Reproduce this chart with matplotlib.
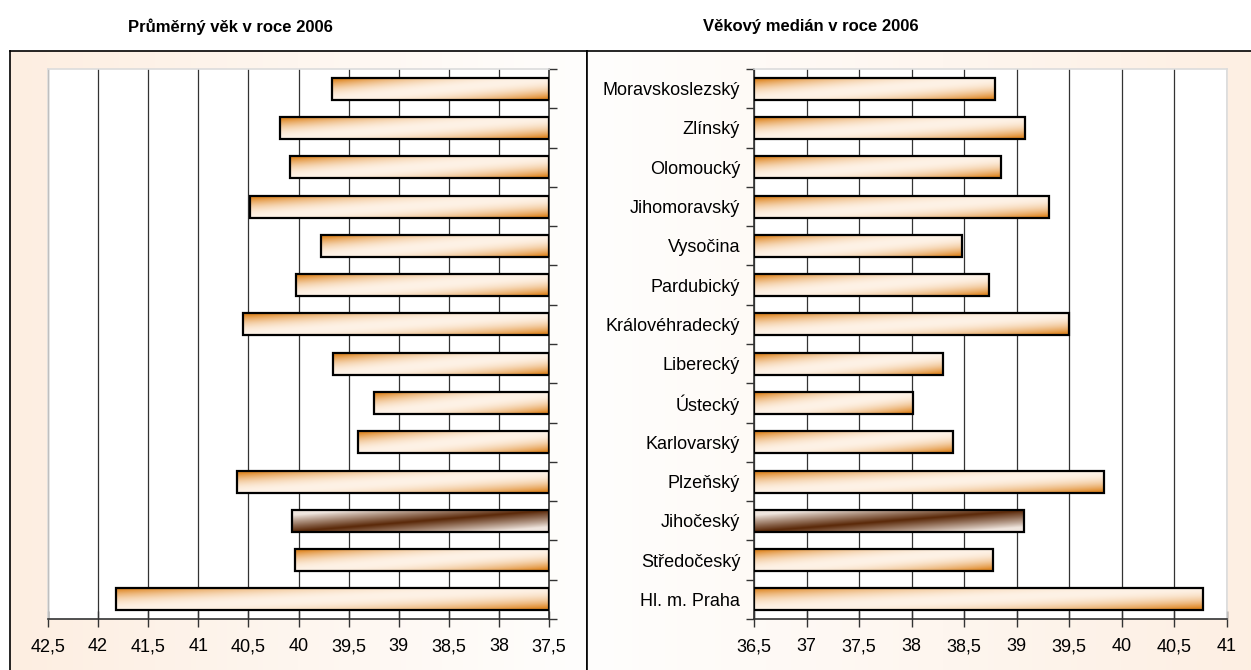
import numpy as np
import matplotlib
matplotlib.use('Agg')
import matplotlib.pyplot as plt
from matplotlib.colors import to_rgb

plt.rcParams['font.family'] = ['Liberation Sans', 'DejaVu Sans']

# data
regions = ['Moravskoslezský', 'Zlínský', 'Olomoucký', 'Jihomoravský', 'Vysočina',
           'Pardubický', 'Královéhradecký', 'Liberecký', 'Ústecký', 'Karlovarský',
           'Plzeňský', 'Jihočeský', 'Středočeský', 'Hl. m. Praha']
avg_age = [39.67, 40.18, 40.08, 40.48, 39.78, 40.02, 40.55, 39.66, 39.25, 39.41,
           40.61, 40.06, 40.03, 41.82]
median_age = [38.79, 39.08, 38.85, 39.31, 38.48, 38.74, 39.50, 38.30, 38.01, 38.39,
              39.83, 39.07, 38.77, 40.77]
highlight = 'Jihočeský'

avg_ticks = [42.5, 42, 41.5, 41, 40.5, 40, 39.5, 39, 38.5, 38, 37.5]
median_ticks = [36.5, 37, 37.5, 38, 38.5, 39, 39.5, 40, 40.5, 41]

title_avg = 'Průměrný věk v roce 2006'
title_median = 'Věkový medián v roce 2006'

W, H = 1251, 670
fig = plt.figure(figsize=(W / 100, H / 100), dpi=100)


def px_axes(x0, y0, x1, y1):
    # pixel box (top-left origin) -> figure axes
    return fig.add_axes([x0 / W, 1 - y1 / H, (x1 - x0) / W, (y1 - y0) / H])


def background(ax, left_peach=True):
    peach = np.array(to_rgb('#FDEEE1'))
    white = np.array(to_rgb('#FFFEFD'))
    t = np.linspace(0, 1, 256)
    if left_peach:
        t = 1 - t
    row = white + (peach - white) * t[:, None]
    ax.imshow(row[None, :, :], aspect='auto', extent=[0, 1, 0, 1])
    ax.set_xlim(0, 1)
    ax.set_ylim(0, 1)
    ax.set_xticks([])
    ax.set_yticks([])
    for s in ax.spines.values():
        s.set_color('black')
        s.set_linewidth(1.2)


bg_left = px_axes(10, 51, 587, 720)
background(bg_left, left_peach=True)
bg_right = px_axes(587, 51, 1300, 720)
background(bg_right, left_peach=False)


def gradient_fill(ax, bar, dark=False):
    x0, y0 = bar.get_x(), bar.get_y()
    w, h = bar.get_width(), bar.get_height()
    xl, xr = x0, x0 + w
    if ax.xaxis_inverted():
        xl, xr = xr, xl
    yt, yb = y0, y0 + h
    u = np.linspace(0, 1, 300)
    v = np.linspace(0, 1, 40)
    U, V = np.meshgrid(u, v)
    d = np.abs(V - (1 - U))
    if dark:
        c_out = np.array(to_rgb('#F0E6DF'))
        c_in = np.array(to_rgb('#5A2808'))
        f = np.clip(1 - d * 1.3, 0, 1) ** 0.9
        img = c_out + (c_in - c_out) * f[..., None]
    else:
        c_mid = np.array(to_rgb('#FEF2E6'))
        c_edge = np.array(to_rgb('#DF8826'))
        f = np.clip(d * 1.1, 0, 1) ** 2.0
        img = c_mid + (c_edge - c_mid) * f[..., None]
    im = ax.imshow(img, aspect='auto', extent=[xl, xr, yb, yt],
                   interpolation='bilinear', zorder=2.5)
    im.set_clip_path(bar)


def bar_panel(ax, values, base, ticks, xlim, ylabels_side):
    y = np.arange(len(regions))
    ax.set_facecolor('white')
    ax.set_xlim(*xlim)
    ax.set_ylim(len(regions) - 0.5, -0.5)
    bars = ax.barh(y, [v - base for v in values], left=base, height=0.56,
                   facecolor='none', edgecolor='black', linewidth=1.6, zorder=3)
    for name, b in zip(regions, bars):
        gradient_fill(ax, b, dark=(name == highlight))
    ax.set_xlim(*xlim)
    ax.set_ylim(len(regions) - 0.5, -0.5)

    ax.set_xticks(ticks)
    ax.set_xticklabels([f'{t:g}'.replace('.', ',') for t in ticks], fontsize=13)
    ax.tick_params(axis='x', direction='inout', length=12, width=1,
                   color='#333333', pad=8)
    ax.grid(axis='x', color='#333333', linewidth=0.9)
    ax.set_axisbelow(True)

    ax.set_yticks(np.arange(-0.5, len(regions)), minor=True)
    ax.tick_params(axis='y', which='minor', direction='out', length=6,
                   width=1, color='#333333')
    if ylabels_side == 'right':
        ax.yaxis.tick_right()
        ax.yaxis.set_tick_params(which='minor', right=True, left=False)
        ax.set_yticks(y)
        ax.set_yticklabels([])
        ax.tick_params(axis='y', which='major', length=0)
        axis_spine, faint = 'right', ['left', 'top']
    else:
        ax.set_yticks(y)
        ax.set_yticklabels(regions, fontsize=13)
        ax.tick_params(axis='y', which='major', length=0, pad=10)
        axis_spine, faint = 'left', ['right', 'top']

    ax.spines['bottom'].set_color('#333333')
    ax.spines['bottom'].set_linewidth(1.2)
    ax.spines[axis_spine].set_color('#333333')
    ax.spines[axis_spine].set_linewidth(1.2)
    for s in faint:
        ax.spines[s].set_color('#DCDCDC')
        ax.spines[s].set_linewidth(1.2)


ax_avg = px_axes(48, 69, 549, 619)
bar_panel(ax_avg, avg_age, 37.5, avg_ticks, (42.5, 37.5), 'right')

ax_med = px_axes(754, 69, 1227, 619)
bar_panel(ax_med, median_age, 36.5, median_ticks, (36.5, 41), 'left')

fig.text(230 / W, 1 - 27 / H, title_avg, ha='center', va='center',
         fontsize=12, fontweight='bold')
fig.text(811 / W, 1 - 27 / H, title_median, ha='center', va='center',
         fontsize=12, fontweight='bold')

fig.savefig('out.png', dpi=100)
